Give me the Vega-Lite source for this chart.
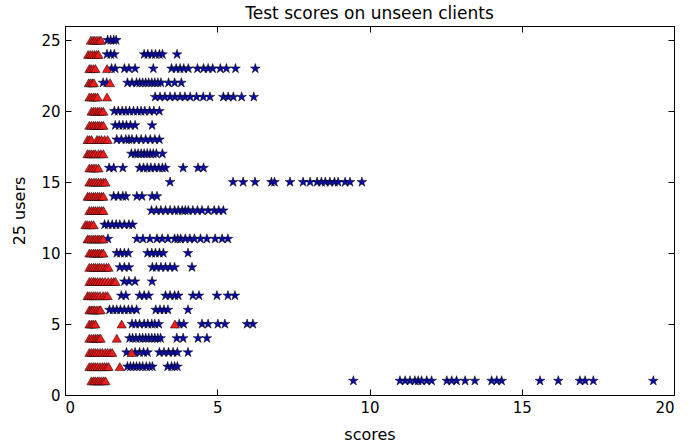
{
  "$schema": "https://vega.github.io/schema/vega-lite/v6.json",
  "width": 609,
  "height": 369,
  "autosize": {"type": "none"},
  "padding": {"left": 65, "top": 26, "right": 20, "bottom": 49},
  "background": "white",
  "title": {"text": "Test scores on unseen clients", "font": "DejaVu Sans", "fontSize": 17, "fontWeight": "normal", "color": "black", "offset": 3},
  "config": {
    "view": {"stroke": "black", "strokeWidth": 1},
    "axis": {"grid": false, "domainColor": "black", "tickColor": "black", "labelColor": "black", "titleColor": "black", "labelFont": "DejaVu Sans", "titleFont": "DejaVu Sans", "labelFontSize": 15, "titleFontSize": 16, "titleFontWeight": "normal", "tickSize": -6, "labelPadding": 11}
  },
  "datasets": {
    "stars": [
      {"user":25,"score":1.4},{"user":25,"score":1.5},{"user":25,"score":1.6},{"user":25,"score":1.68},
      {"user":24,"score":1.38},{"user":24,"score":1.5},{"user":24,"score":1.62},{"user":24,"score":2.6},{"user":24,"score":2.72},{"user":24,"score":2.85},{"user":24,"score":2.97},{"user":24,"score":3.1},{"user":24,"score":3.2},{"user":24,"score":3.68},
      {"user":23,"score":1.53},{"user":23,"score":1.65},{"user":23,"score":1.95},{"user":23,"score":2.1},{"user":23,"score":2.3},{"user":23,"score":2.9},{"user":23,"score":3.5},{"user":23,"score":3.65},{"user":23,"score":3.78},{"user":23,"score":3.9},{"user":23,"score":4.05},{"user":23,"score":4.35},{"user":23,"score":4.55},{"user":23,"score":4.7},{"user":23,"score":4.85},{"user":23,"score":5.1},{"user":23,"score":5.3},{"user":23,"score":5.6},{"user":23,"score":6.25},
      {"user":22,"score":1.25},{"user":22,"score":1.37},{"user":22,"score":2.05},{"user":22,"score":2.2},{"user":22,"score":2.35},{"user":22,"score":2.45},{"user":22,"score":2.55},{"user":22,"score":2.65},{"user":22,"score":2.75},{"user":22,"score":2.85},{"user":22,"score":2.95},{"user":22,"score":3.05},{"user":22,"score":3.15},{"user":22,"score":3.4},{"user":22,"score":3.6},{"user":22,"score":3.82},
      {"user":21,"score":2.96},{"user":21,"score":3.12},{"user":21,"score":3.28},{"user":21,"score":3.45},{"user":21,"score":3.61},{"user":21,"score":3.78},{"user":21,"score":3.94},{"user":21,"score":4.11},{"user":21,"score":4.32},{"user":21,"score":4.54},{"user":21,"score":4.76},{"user":21,"score":5.2},{"user":21,"score":5.36},{"user":21,"score":5.53},{"user":21,"score":5.8},{"user":21,"score":6.2},
      {"user":20,"score":1.62},{"user":20,"score":1.75},{"user":20,"score":1.88},{"user":20,"score":2.0},{"user":20,"score":2.12},{"user":20,"score":2.25},{"user":20,"score":2.38},{"user":20,"score":2.5},{"user":20,"score":2.62},{"user":20,"score":2.78},{"user":20,"score":2.92},{"user":20,"score":3.1},
      {"user":19,"score":1.65},{"user":19,"score":1.78},{"user":19,"score":1.9},{"user":19,"score":2.02},{"user":19,"score":2.15},{"user":19,"score":2.3},{"user":19,"score":2.86},
      {"user":18,"score":1.7},{"user":18,"score":1.85},{"user":18,"score":2.0},{"user":18,"score":2.1},{"user":18,"score":2.2},{"user":18,"score":2.35},{"user":18,"score":2.5},{"user":18,"score":2.65},{"user":18,"score":2.8},{"user":18,"score":2.95},{"user":18,"score":3.1},
      {"user":17,"score":2.18},{"user":17,"score":2.3},{"user":17,"score":2.4},{"user":17,"score":2.5},{"user":17,"score":2.6},{"user":17,"score":2.7},{"user":17,"score":2.8},{"user":17,"score":2.9},{"user":17,"score":3.0},{"user":17,"score":3.2},
      {"user":16,"score":1.45},{"user":16,"score":1.6},{"user":16,"score":1.9},{"user":16,"score":2.45},{"user":16,"score":2.58},{"user":16,"score":2.7},{"user":16,"score":2.82},{"user":16,"score":2.95},{"user":16,"score":3.08},{"user":16,"score":3.2},{"user":16,"score":3.3},{"user":16,"score":3.88},{"user":16,"score":4.37},{"user":16,"score":4.55},
      {"user":15,"score":3.45},{"user":15,"score":5.52},{"user":15,"score":5.85},{"user":15,"score":6.24},{"user":15,"score":6.78},{"user":15,"score":6.88},{"user":15,"score":7.39},{"user":15,"score":7.82},{"user":15,"score":8.05},{"user":15,"score":8.28},{"user":15,"score":8.42},{"user":15,"score":8.55},{"user":15,"score":8.7},{"user":15,"score":8.85},{"user":15,"score":8.97},{"user":15,"score":9.2},{"user":15,"score":9.36},{"user":15,"score":9.75},
      {"user":14,"score":1.6},{"user":14,"score":1.75},{"user":14,"score":1.9},{"user":14,"score":2.0},{"user":14,"score":2.36},{"user":14,"score":2.53},{"user":14,"score":2.86},{"user":14,"score":3.02},
      {"user":13,"score":2.84},{"user":13,"score":3.0},{"user":13,"score":3.15},{"user":13,"score":3.3},{"user":13,"score":3.45},{"user":13,"score":3.6},{"user":13,"score":3.72},{"user":13,"score":3.85},{"user":13,"score":3.95},{"user":13,"score":4.05},{"user":13,"score":4.2},{"user":13,"score":4.35},{"user":13,"score":4.5},{"user":13,"score":4.7},{"user":13,"score":4.9},{"user":13,"score":5.05},{"user":13,"score":5.2},
      {"user":12,"score":1.3},{"user":12,"score":1.42},{"user":12,"score":1.55},{"user":12,"score":1.68},{"user":12,"score":1.8},{"user":12,"score":1.95},{"user":12,"score":2.1},{"user":12,"score":2.22},
      {"user":11,"score":1.41},{"user":11,"score":2.36},{"user":11,"score":2.56},{"user":11,"score":2.79},{"user":11,"score":3.02},{"user":11,"score":3.19},{"user":11,"score":3.38},{"user":11,"score":3.6},{"user":11,"score":3.7},{"user":11,"score":3.8},{"user":11,"score":3.95},{"user":11,"score":4.1},{"user":11,"score":4.25},{"user":11,"score":4.45},{"user":11,"score":4.66},{"user":11,"score":4.93},{"user":11,"score":5.16},{"user":11,"score":5.35},
      {"user":10,"score":1.7},{"user":10,"score":1.82},{"user":10,"score":1.95},{"user":10,"score":2.08},{"user":10,"score":2.71},{"user":10,"score":2.85},{"user":10,"score":2.97},{"user":10,"score":3.1},{"user":10,"score":3.23},{"user":10,"score":4.04},
      {"user":9,"score":1.8},{"user":9,"score":1.95},{"user":9,"score":2.1},{"user":9,"score":2.87},{"user":9,"score":3.0},{"user":9,"score":3.15},{"user":9,"score":3.3},{"user":9,"score":3.45},{"user":9,"score":3.6},{"user":9,"score":4.17},
      {"user":8,"score":1.95},{"user":8,"score":2.1},{"user":8,"score":2.3},{"user":8,"score":2.86},
      {"user":7,"score":1.85},{"user":7,"score":2.0},{"user":7,"score":2.45},{"user":7,"score":2.6},{"user":7,"score":2.75},{"user":7,"score":3.3},{"user":7,"score":3.45},{"user":7,"score":3.6},{"user":7,"score":3.72},{"user":7,"score":4.2},{"user":7,"score":4.4},{"user":7,"score":4.99},{"user":7,"score":5.35},{"user":7,"score":5.58},
      {"user":6,"score":1.46},{"user":6,"score":1.58},{"user":6,"score":1.7},{"user":6,"score":1.82},{"user":6,"score":1.95},{"user":6,"score":2.08},{"user":6,"score":2.2},{"user":6,"score":2.35},{"user":6,"score":2.98},{"user":6,"score":3.12},{"user":6,"score":3.25},{"user":6,"score":3.38},{"user":6,"score":4.04},
      {"user":5,"score":2.2},{"user":5,"score":2.32},{"user":5,"score":2.45},{"user":5,"score":2.6},{"user":5,"score":2.72},{"user":5,"score":2.85},{"user":5,"score":2.95},{"user":5,"score":3.08},{"user":5,"score":3.75},{"user":5,"score":3.9},{"user":5,"score":4.5},{"user":5,"score":4.7},{"user":5,"score":5.02},{"user":5,"score":5.25},{"user":5,"score":5.98},{"user":5,"score":6.17},
      {"user":4,"score":2.12},{"user":4,"score":2.22},{"user":4,"score":2.33},{"user":4,"score":2.45},{"user":4,"score":2.55},{"user":4,"score":2.65},{"user":4,"score":2.75},{"user":4,"score":2.85},{"user":4,"score":2.95},{"user":4,"score":3.05},{"user":4,"score":3.14},{"user":4,"score":3.67},{"user":4,"score":3.88},{"user":4,"score":4.37},{"user":4,"score":4.66},
      {"user":3,"score":2.02},{"user":3,"score":2.3},{"user":3,"score":2.45},{"user":3,"score":2.58},{"user":3,"score":2.71},{"user":3,"score":3.1},{"user":3,"score":3.25},{"user":3,"score":3.4},{"user":3,"score":3.55},{"user":3,"score":3.69},{"user":3,"score":4.04},
      {"user":2,"score":2.05},{"user":2,"score":2.15},{"user":2,"score":2.25},{"user":2,"score":2.35},{"user":2,"score":2.45},{"user":2,"score":2.55},{"user":2,"score":2.67},{"user":2,"score":2.78},{"user":2,"score":2.87},{"user":2,"score":3.37},{"user":2,"score":3.5},{"user":2,"score":3.6},{"user":2,"score":3.69},
      {"user":1,"score":9.47},{"user":1,"score":11.0},{"user":1,"score":11.17},{"user":1,"score":11.33},{"user":1,"score":11.49},{"user":1,"score":11.6},{"user":1,"score":11.71},{"user":1,"score":11.88},{"user":1,"score":12.04},{"user":1,"score":12.54},{"user":1,"score":12.7},{"user":1,"score":12.86},{"user":1,"score":13.14},{"user":1,"score":13.46},{"user":1,"score":14.01},{"user":1,"score":14.18},{"user":1,"score":14.34},{"user":1,"score":15.6},{"user":1,"score":16.2},{"user":1,"score":16.91},{"user":1,"score":17.08},{"user":1,"score":17.35},{"user":1,"score":19.32}
    ],
    "tris": [
      {"user":25,"score":0.85},{"user":25,"score":0.92},{"user":25,"score":0.98},{"user":25,"score":1.05},{"user":25,"score":1.12},{"user":25,"score":1.18},
      {"user":24,"score":0.76},{"user":24,"score":0.83},{"user":24,"score":0.9},{"user":24,"score":0.97},{"user":24,"score":1.04},{"user":24,"score":1.1},
      {"user":23,"score":0.8},{"user":23,"score":0.86},{"user":23,"score":0.93},{"user":23,"score":1.0},{"user":23,"score":1.38},
      {"user":22,"score":0.78},{"user":22,"score":0.84},{"user":22,"score":0.9},{"user":22,"score":0.95},{"user":22,"score":1.48},
      {"user":21,"score":0.8},{"user":21,"score":0.87},{"user":21,"score":0.94},{"user":21,"score":1.0},{"user":21,"score":1.07},{"user":21,"score":1.38},
      {"user":20,"score":0.87},{"user":20,"score":0.94},{"user":20,"score":1.0},{"user":20,"score":1.07},{"user":20,"score":1.13},{"user":20,"score":1.2},{"user":20,"score":1.26},
      {"user":19,"score":0.8},{"user":19,"score":0.87},{"user":19,"score":0.94},{"user":19,"score":1.0},{"user":19,"score":1.07},{"user":19,"score":1.13},{"user":19,"score":1.2},{"user":19,"score":1.26},
      {"user":18,"score":0.74},{"user":18,"score":0.8},{"user":18,"score":0.87},{"user":18,"score":1.05},{"user":18,"score":1.12},{"user":18,"score":1.2},{"user":18,"score":1.3},{"user":18,"score":1.4},
      {"user":17,"score":0.74},{"user":17,"score":0.8},{"user":17,"score":0.87},{"user":17,"score":0.94},{"user":17,"score":1.0},{"user":17,"score":1.1},{"user":17,"score":1.18},{"user":17,"score":1.26},
      {"user":16,"score":0.8},{"user":16,"score":0.88},{"user":16,"score":0.95},{"user":16,"score":1.02},{"user":16,"score":1.1},
      {"user":15,"score":0.8},{"user":15,"score":0.87},{"user":15,"score":0.95},{"user":15,"score":1.02},{"user":15,"score":1.1},{"user":15,"score":1.18},{"user":15,"score":1.26},{"user":15,"score":1.33},
      {"user":14,"score":0.74},{"user":14,"score":0.8},{"user":14,"score":0.87},{"user":14,"score":0.94},{"user":14,"score":1.0},{"user":14,"score":1.07},{"user":14,"score":1.13},{"user":14,"score":1.2},{"user":14,"score":1.26},
      {"user":13,"score":0.8},{"user":13,"score":0.87},{"user":13,"score":0.94},{"user":13,"score":1.0},{"user":13,"score":1.07},{"user":13,"score":1.13},{"user":13,"score":1.2},{"user":13,"score":1.26},
      {"user":12,"score":0.67},{"user":12,"score":0.73},{"user":12,"score":0.8},{"user":12,"score":0.87},{"user":12,"score":0.94},
      {"user":11,"score":0.74},{"user":11,"score":0.8},{"user":11,"score":0.87},{"user":11,"score":0.94},{"user":11,"score":1.0},{"user":11,"score":1.07},{"user":11,"score":1.13},{"user":11,"score":1.2},{"user":11,"score":1.26},
      {"user":10,"score":0.8},{"user":10,"score":0.87},{"user":10,"score":0.94},{"user":10,"score":1.0},{"user":10,"score":1.07},{"user":10,"score":1.13},{"user":10,"score":1.2},{"user":10,"score":1.26},
      {"user":9,"score":0.8},{"user":9,"score":0.87},{"user":9,"score":0.94},{"user":9,"score":1.0},{"user":9,"score":1.07},{"user":9,"score":1.13},{"user":9,"score":1.2},{"user":9,"score":1.28},{"user":9,"score":1.36},{"user":9,"score":1.43},
      {"user":8,"score":0.8},{"user":8,"score":0.87},{"user":8,"score":0.94},{"user":8,"score":1.0},{"user":8,"score":1.07},{"user":8,"score":1.15},{"user":8,"score":1.23},{"user":8,"score":1.32},{"user":8,"score":1.42},{"user":8,"score":1.52},{"user":8,"score":1.6},{"user":8,"score":1.66},
      {"user":7,"score":0.74},{"user":7,"score":0.8},{"user":7,"score":0.87},{"user":7,"score":0.94},{"user":7,"score":1.0},{"user":7,"score":1.07},{"user":7,"score":1.15},{"user":7,"score":1.25},{"user":7,"score":1.33},{"user":7,"score":1.4},
      {"user":6,"score":0.8},{"user":6,"score":0.86},{"user":6,"score":0.92},{"user":6,"score":0.98},{"user":6,"score":1.05},{"user":6,"score":1.12},{"user":6,"score":1.17},
      {"user":5,"score":0.8},{"user":5,"score":0.87},{"user":5,"score":0.93},{"user":5,"score":1.0},{"user":5,"score":1.86},{"user":5,"score":3.61},
      {"user":4,"score":0.8},{"user":4,"score":0.87},{"user":4,"score":0.94},{"user":4,"score":1.0},{"user":4,"score":1.06},{"user":4,"score":1.12},{"user":4,"score":1.17},{"user":4,"score":1.7},
      {"user":3,"score":0.8},{"user":3,"score":0.87},{"user":3,"score":0.94},{"user":3,"score":1.0},{"user":3,"score":1.07},{"user":3,"score":1.15},{"user":3,"score":1.23},{"user":3,"score":1.32},{"user":3,"score":1.4},{"user":3,"score":1.48},{"user":3,"score":1.55},{"user":3,"score":2.19},
      {"user":2,"score":0.8},{"user":2,"score":0.87},{"user":2,"score":0.94},{"user":2,"score":1.0},{"user":2,"score":1.07},{"user":2,"score":1.15},{"user":2,"score":1.23},{"user":2,"score":1.3},{"user":2,"score":1.37},{"user":2,"score":1.43},{"user":2,"score":1.8},
      {"user":1,"score":0.87},{"user":1,"score":0.94},{"user":1,"score":1.0},{"user":1,"score":1.07},{"user":1,"score":1.13},{"user":1,"score":1.2},{"user":1,"score":1.27},{"user":1,"score":1.33}
    ]
  },
  "layer": [
    {
      "data": {"name": "stars"},
      "mark": {"type": "point", "shape": "M0,-1L0.225,-0.309L0.951,-0.309L0.363,0.118L0.588,0.809L0,0.382L-0.588,0.809L-0.363,0.118L-0.951,-0.309L-0.225,-0.309Z", "filled": true, "fill": "#0a0aa8", "stroke": "black", "strokeWidth": 0.5, "size": 105, "opacity": 1},
      "encoding": {
        "x": {"field": "score", "type": "quantitative", "scale": {"domain": [0, 20], "nice": false, "zero": false}, "axis": {"values": [0, 5, 10, 15, 20], "title": "scores", "titlePadding": 11}},
        "y": {"field": "user", "type": "quantitative", "scale": {"domain": [0, 26], "nice": false, "zero": false}, "axis": {"values": [0, 5, 10, 15, 20, 25], "title": "25 users", "titlePadding": 13}}
      }
    },
    {
      "data": {"name": "tris"},
      "mark": {"type": "point", "shape": "triangle-up", "filled": true, "fill": "#ee1c1c", "stroke": "black", "strokeWidth": 0.5, "size": 85, "opacity": 1},
      "encoding": {
        "x": {"field": "score", "type": "quantitative", "axis": {"orient": "top", "values": [0, 5, 10, 15, 20], "labels": false, "title": null, "domain": false}},
        "y": {"field": "user", "type": "quantitative", "axis": {"orient": "right", "values": [0, 5, 10, 15, 20, 25], "labels": false, "title": null, "domain": false}}
      }
    }
  ],
  "resolve": {"axis": {"x": "independent", "y": "independent"}}
}
